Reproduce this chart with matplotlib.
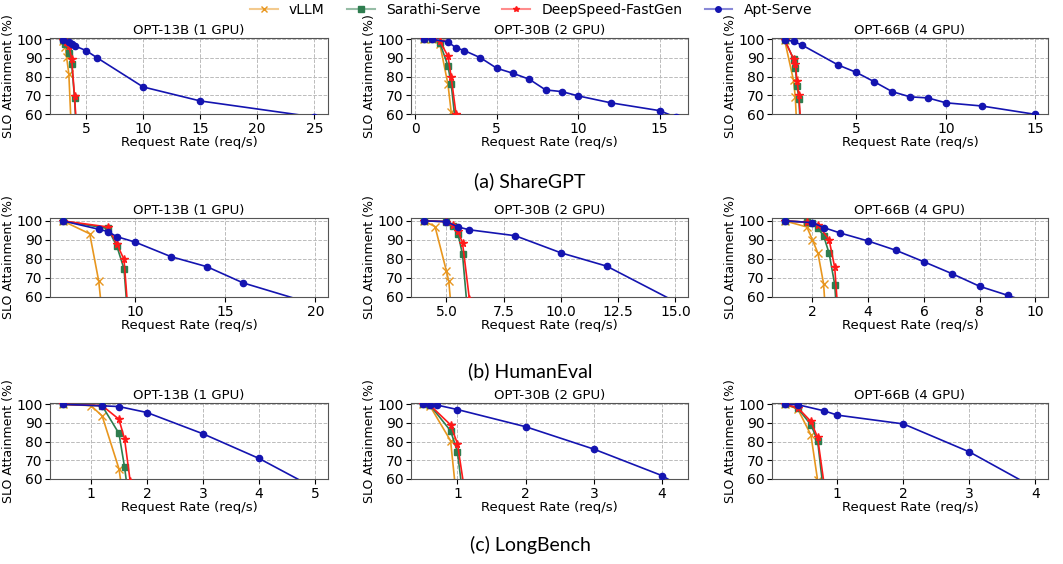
import matplotlib.pyplot as plt
from matplotlib.lines import Line2D
import numpy as np

W, H = 1063, 564

systems = ['vLLM', 'Sarathi-Serve', 'DeepSpeed-FastGen', 'Apt-Serve']
colors = ['#e8961e', '#2e7d4f', '#ff1a1a', '#1414b0']
markers = ['x', 's', '*', 'o']

titles = ['OPT-13B (1 GPU)', 'OPT-30B (2 GPU)', 'OPT-66B (4 GPU)']
captions = ['(a) ShareGPT', '(b) HumanEval', '(c) LongBench']

# ShareGPT
a1_vllm_x = [3.0, 3.2, 3.3, 3.5, 3.8]
a1_vllm_y = [99, 96, 90.5, 81.5, 40]
a1_sarathi_x = [3.0, 3.2, 3.5, 3.75, 4.0, 4.2]
a1_sarathi_y = [99.5, 97.5, 92.5, 87, 68.5, 45]
a1_ds_x = [3.0, 3.25, 3.5, 3.75, 4.0, 4.25]
a1_ds_y = [99.5, 98.8, 96.5, 89.5, 69.5, 45]
a1_apt_x = [3, 3.5, 3.75, 4, 5, 6, 10, 15, 25]
a1_apt_y = [99.5, 98.5, 97.5, 96.5, 94, 90, 74.5, 67, 58.4]

a2_vllm_x = [0.5, 1.0, 1.5, 2.0, 2.2, 2.3]
a2_vllm_y = [100, 100, 97.5, 76, 61, 45]
a2_sarathi_x = [0.5, 1.0, 1.5, 2.0, 2.2, 2.5]
a2_sarathi_y = [100, 100, 98.2, 85.8, 75.9, 52]
a2_ds_x = [0.5, 1.0, 1.5, 2.0, 2.2, 2.5]
a2_ds_y = [100, 100, 99, 91, 79.7, 59.8]
a2_apt_x = [0.5, 1, 2, 2.5, 3, 4, 5, 6, 7, 8, 9, 10, 12, 15, 16]
a2_apt_y = [100, 100, 98.6, 95.4, 94, 90.1, 84.5, 81.8, 78.6, 72.9, 72.0, 69.7, 66, 61.8, 58.3]

a3_vllm_x = [1.0, 1.5, 1.6, 1.7]
a3_vllm_y = [99.8, 78, 69, 50]
a3_sarathi_x = [1.0, 1.5, 1.6, 1.7, 1.8, 1.9]
a3_sarathi_y = [99.8, 89.5, 84.5, 75, 68, 50]
a3_ds_x = [1.0, 1.5, 1.6, 1.7, 1.8, 1.9]
a3_ds_y = [99.8, 89.5, 86.8, 77.5, 70, 55]
a3_apt_x = [1, 1.5, 2, 4, 5, 6, 7, 8, 9, 10, 12, 15]
a3_apt_y = [99.8, 98.9, 96.8, 86.2, 82.3, 77.3, 72, 69.2, 68.6, 66, 64.3, 59.8]

# HumanEval
b1_vllm_x = [6, 7.5, 8, 8.2]
b1_vllm_y = [100, 93.2, 68.3, 50]
b1_sarathi_x = [6, 8.5, 9, 9.4, 9.6]
b1_sarathi_y = [100, 96, 86.8, 74.8, 50]
b1_ds_x = [6, 8.5, 9, 9.4, 9.6]
b1_ds_y = [100, 96.8, 88, 79.7, 55]
b1_apt_x = [6, 8, 8.5, 9, 10, 12, 14, 16, 20]
b1_apt_y = [100, 95.6, 94.4, 91.7, 88.9, 81.2, 75.9, 67.4, 56]

b2_vllm_x = [4, 4.5, 5.0, 5.1, 5.2]
b2_vllm_y = [100, 97, 73.5, 68.3, 55]
b2_sarathi_x = [4, 5, 5.3, 5.5, 5.7, 5.9]
b2_sarathi_y = [100, 99.6, 97.5, 93.3, 82.4, 55]
b2_ds_x = [4, 5, 5.3, 5.5, 5.7, 6.0]
b2_ds_y = [100, 99.6, 98, 94.5, 88.5, 59]
b2_apt_x = [4, 5, 5.5, 6, 8, 10, 12, 15]
b2_apt_y = [100, 99.6, 96.8, 95.3, 92.2, 83.2, 76.2, 57.5]

b3_vllm_x = [1, 1.8, 2.0, 2.2, 2.4, 2.5]
b3_vllm_y = [100, 96.8, 90, 82.9, 67, 45]
b3_sarathi_x = [1, 1.8, 2.0, 2.2, 2.4, 2.6, 2.8, 2.9]
b3_sarathi_y = [100, 99.3, 98.8, 96, 92.2, 82.9, 66.5, 45]
b3_ds_x = [1, 1.8, 2.2, 2.6, 2.8, 2.9]
b3_ds_y = [100, 99.3, 98, 90, 75.5, 55]
b3_apt_x = [1, 2, 2.4, 3, 4, 5, 6, 7, 8, 9, 10]
b3_apt_y = [100, 99.1, 96.5, 93.6, 89.4, 84.5, 78.5, 72.3, 65.6, 60.9, 56]

# LongBench
c1_vllm_x = [0.5, 1.0, 1.2, 1.5, 1.6]
c1_vllm_y = [100, 99.3, 93.8, 65.5, 45]
c1_sarathi_x = [0.5, 1.2, 1.5, 1.6, 1.65]
c1_sarathi_y = [100, 99.2, 84.4, 66.4, 55]
c1_ds_x = [0.5, 1.2, 1.5, 1.6, 1.7]
c1_ds_y = [100, 99.3, 92, 81.5, 59]
c1_apt_x = [0.5, 1.2, 1.5, 2, 3, 4, 5]
c1_apt_y = [100, 99.2, 98.8, 95.6, 84.2, 71, 55]

c2_vllm_x = [0.5, 0.6, 0.9, 1.0]
c2_vllm_y = [100, 99, 80.5, 45]
c2_sarathi_x = [0.5, 0.6, 0.9, 1.0, 1.1]
c2_sarathi_y = [100, 99.5, 85.8, 74.7, 45]
c2_ds_x = [0.5, 0.6, 0.9, 1.0, 1.1]
c2_ds_y = [100, 99.5, 89, 79, 55]
c2_apt_x = [0.5, 0.6, 0.7, 1, 2, 3, 4, 4.2]
c2_apt_y = [100, 99.8, 99.6, 97.2, 88, 76, 61.8, 57.5]

c3_vllm_x = [0.2, 0.4, 0.6, 0.7]
c3_vllm_y = [100, 97.5, 83.5, 59.5]
c3_sarathi_x = [0.2, 0.4, 0.6, 0.7, 0.8]
c3_sarathi_y = [100, 97.9, 89, 80.6, 50]
c3_ds_x = [0.2, 0.4, 0.6, 0.7, 0.8]
c3_ds_y = [100, 98.2, 90.8, 82.3, 57]
c3_apt_x = [0.2, 0.4, 0.8, 1, 2, 3, 4]
c3_apt_y = [100, 99.8, 96.5, 94.2, 89.5, 74.5, 55]

panels = [
    [[(a1_vllm_x, a1_vllm_y), (a1_sarathi_x, a1_sarathi_y), (a1_ds_x, a1_ds_y), (a1_apt_x, a1_apt_y)],
     [(a2_vllm_x, a2_vllm_y), (a2_sarathi_x, a2_sarathi_y), (a2_ds_x, a2_ds_y), (a2_apt_x, a2_apt_y)],
     [(a3_vllm_x, a3_vllm_y), (a3_sarathi_x, a3_sarathi_y), (a3_ds_x, a3_ds_y), (a3_apt_x, a3_apt_y)]],
    [[(b1_vllm_x, b1_vllm_y), (b1_sarathi_x, b1_sarathi_y), (b1_ds_x, b1_ds_y), (b1_apt_x, b1_apt_y)],
     [(b2_vllm_x, b2_vllm_y), (b2_sarathi_x, b2_sarathi_y), (b2_ds_x, b2_ds_y), (b2_apt_x, b2_apt_y)],
     [(b3_vllm_x, b3_vllm_y), (b3_sarathi_x, b3_sarathi_y), (b3_ds_x, b3_ds_y), (b3_apt_x, b3_apt_y)]],
    [[(c1_vllm_x, c1_vllm_y), (c1_sarathi_x, c1_sarathi_y), (c1_ds_x, c1_ds_y), (c1_apt_x, c1_apt_y)],
     [(c2_vllm_x, c2_vllm_y), (c2_sarathi_x, c2_sarathi_y), (c2_ds_x, c2_ds_y), (c2_apt_x, c2_apt_y)],
     [(c3_vllm_x, c3_vllm_y), (c3_sarathi_x, c3_sarathi_y), (c3_ds_x, c3_ds_y), (c3_apt_x, c3_apt_y)]],
]

xlims = [[(1.85, 26.2), (-0.27, 16.75), (0.3, 15.7)],
         [(5.3, 20.7), (3.45, 15.55), (0.55, 10.45)],
         [(0.27, 5.23), (0.32, 4.38), (0.01, 4.19)]]
ylims = [(60, 100.7), (60, 101.5), (60, 100.7)]

# axes placement in pixels (left, top, right, bottom)
col_lr = [(50, 328), (411, 688), (772, 1048)]
row_tb = [(38, 114), (218, 297), (403, 479)]
caption_y = [181, 371, 545]

fig = plt.figure(figsize=(W / 100, H / 100), dpi=100)

for r in range(3):
    for c in range(3):
        l, rr = col_lr[c]
        t, b = row_tb[r]
        ax = fig.add_axes([l / W, 1 - b / H, (rr - l) / W, (b - t) / H])
        for k in range(4):
            x, y = panels[r][c][k]
            ms = 4.5 if markers[k] in ('s', 'o') else 5.5
            ax.plot(x, y, color=colors[k], marker=markers[k], markersize=ms,
                    linewidth=1.2, zorder=2 + k)
        ax.set_xlim(*xlims[r][c])
        ax.set_ylim(*ylims[r])
        ax.set_yticks([60, 70, 80, 90, 100])
        ax.grid(True, linestyle='--', color='#bbbbbb', linewidth=0.7)
        ax.set_axisbelow(True)
        ax.tick_params(labelsize=10, pad=2)
        ax.set_title(titles[c], fontsize=9.5, pad=3)
        ax.set_xlabel('Request Rate (req/s)', fontsize=9.5, labelpad=0)
        ax.set_ylabel('SLO Attainment (%)', fontsize=9, labelpad=1)
        for s in ax.spines.values():
            s.set_color('#555555')
    fig.text(530 / W, 1 - caption_y[r] / H, captions[r], ha='center', va='center',
             fontsize=14, family='Lato')

# legend: pale line with solid marker on top
handles = [(Line2D([], [], color=colors[k], alpha=0.5, linewidth=1.5),
            Line2D([], [], color=colors[k], marker=markers[k], linestyle='none', markersize=4))
           for k in range(4)]
fig.legend(handles=handles, labels=systems, loc='center', bbox_to_anchor=(531 / W, 1 - 10 / H),
           ncol=4, frameon=False, fontsize=10, columnspacing=1.6, handlelength=2.0)

fig.savefig('out.png', dpi=100)
